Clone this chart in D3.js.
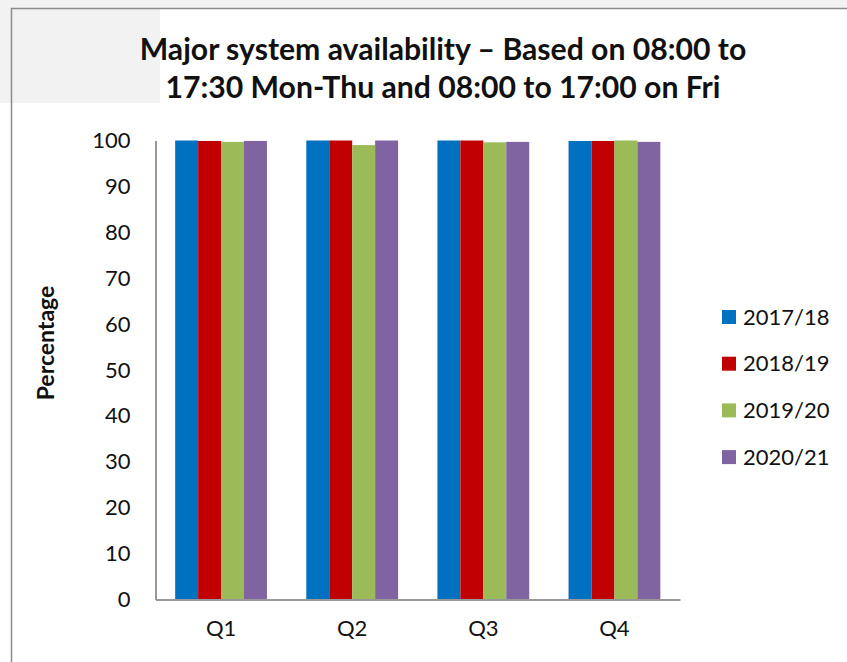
<!DOCTYPE html>
<html>
<head>
<meta charset="utf-8">
<script src="https://cdn.jsdelivr.net/npm/d3@7"></script>
<style>
  body { margin: 0; background: #fff; }
  svg text { font-family: Lato, "Open Sans", sans-serif; fill: #111; }
</style>
</head>
<body>
<div id="chart"></div>
<script>
// data
const quarters = ["Q1", "Q2", "Q3", "Q4"];
const years = ["2017/18", "2018/19", "2019/20", "2020/21"];
const colors = ["#0070c0", "#c00000", "#9bbb59", "#8064a2"];
const v201718 = [100, 100, 100, 99.9];
const v201819 = [99.9, 100, 100, 99.9];
const v201920 = [99.7, 99.0, 99.6, 100];
const v202021 = [99.9, 100, 99.7, 99.7];
const yTicks = [0, 10, 20, 30, 40, 50, 60, 70, 80, 90, 100];

const series = [v201718, v201819, v201920, v202021];

const width = 847, height = 662;
const margin = {top: 140.5, left: 155.5, right: 167, bottom: 62.5};

const svg = d3.select("#chart").append("svg")
    .attr("width", width)
    .attr("height", height);

// screenshot-ish background bits
svg.append("rect").attr("x", 0).attr("y", 0).attr("width", width).attr("height", 8).attr("fill", "#f2f2f2");
svg.append("rect").attr("x", 0).attr("y", 0).attr("width", 160).attr("height", 103).attr("fill", "#f2f2f2");
svg.append("path")
    .attr("d", `M11.5,${height}V8.5H${width}`)
    .attr("fill", "none")
    .attr("stroke", "#8c8c8c")
    .attr("stroke-width", 1.5);

// title
const title = svg.append("text")
    .attr("text-anchor", "middle")
    .attr("font-weight", "bold")
    .attr("font-size", 26);
title.append("tspan").attr("x", 443).attr("y", 60).text("Major system availability \u2013 Based on 08:00 to");
title.append("tspan").attr("x", 443).attr("y", 98).text("17:30 Mon-Thu and 08:00 to 17:00 on Fri");
// squeeze to the width of the original
const tw = title.node().getBBox().width;
title.attr("font-size", 26 * 607 / tw);

const x0 = d3.scaleBand()
    .domain(quarters)
    .range([margin.left, width - margin.right])
    .paddingInner(0.3)
    .paddingOuter(0.15);

const x1 = d3.scaleBand()
    .domain(years)
    .range([0, x0.bandwidth()]);

const y = d3.scaleLinear()
    .domain([0, 100])
    .range([height - margin.bottom, margin.top]);

// bars
const groups = svg.append("g").selectAll("g")
    .data(quarters)
    .join("g")
    .attr("transform", d => `translate(${x0(d)},0)`);

groups.selectAll("rect")
    .data((q, qi) => years.map((yr, i) => ({yr: yr, i: i, v: series[i][qi]})))
    .join("rect")
    .attr("x", d => x1(d.yr))
    .attr("width", x1.bandwidth())
    .attr("y", d => y(d.v))
    .attr("height", d => y(0) - y(d.v))
    .attr("fill", d => colors[d.i]);

// axes
const yAxis = svg.append("g")
    .attr("transform", `translate(${margin.left},0)`)
    .call(d3.axisLeft(y).tickValues(yTicks).tickSize(0).tickPadding(25));
yAxis.select(".domain").attr("stroke", "#999").attr("stroke-width", 2);
yAxis.selectAll("text").attr("font-size", 22).attr("font-family", "Lato, sans-serif").attr("fill", "#111");

const xAxis = svg.append("g")
    .attr("transform", `translate(0,${y(0)})`)
    .call(d3.axisBottom(x0).tickSize(0).tickPadding(21));
xAxis.select(".domain").attr("stroke", "#999").attr("stroke-width", 2);
xAxis.selectAll("text").attr("font-size", 22).attr("font-family", "Lato, sans-serif").attr("fill", "#111");

// y label
svg.append("text")
    .attr("transform", "rotate(-90)")
    .attr("x", -343)
    .attr("y", 54)
    .attr("text-anchor", "middle")
    .attr("font-weight", "bold")
    .attr("font-size", 23)
    .text("Percentage");

// legend
const legend = svg.append("g").selectAll("g")
    .data(years)
    .join("g")
    .attr("transform", (d, i) => `translate(722,${317 + i * 46.7})`);
legend.append("rect")
    .attr("x", 0).attr("y", -7)
    .attr("width", 14).attr("height", 14)
    .attr("fill", (d, i) => colors[i]);
legend.append("text")
    .attr("x", 21)
    .attr("dy", "0.35em")
    .attr("font-size", 22)
    .text(d => d);
</script>
</body>
</html>
